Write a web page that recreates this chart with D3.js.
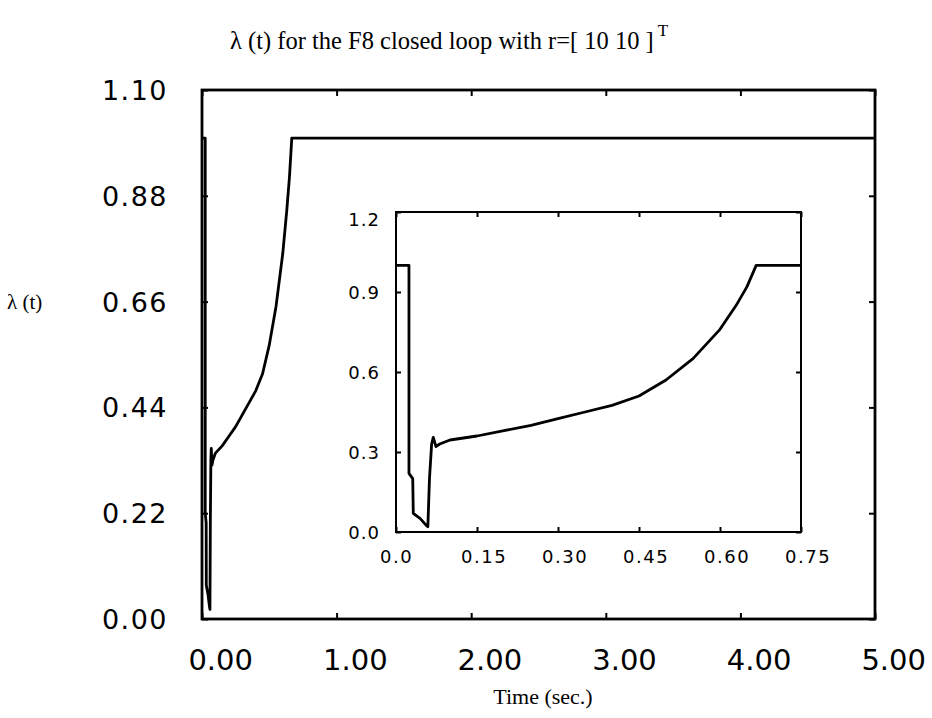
<!DOCTYPE html>
<html>
<head>
<meta charset="utf-8">
<script src="https://d3js.org/d3.v7.min.js"></script>
<style>
body { margin: 0; background: white; }
svg { display: block; }
.num { font-family: "DejaVu Sans", sans-serif; fill: black; }
.ser { font-family: "Liberation Serif", "DejaVu Serif", serif; fill: black; }
</style>
</head>
<body>
<svg width="932" height="718"></svg>
<script>

// lambda(t) samples (time in sec., value)
var times  = [0, 0.024, 0.024, 0.031, 0.032, 0.045, 0.056, 0.059, 0.062, 0.066, 0.069, 0.074, 0.081,
              0.10, 0.15, 0.20, 0.25, 0.30, 0.35, 0.40, 0.45, 0.50, 0.55, 0.60, 0.63, 0.65, 0.667, 5.0];
var lambda = [1.0, 1.0, 0.22, 0.20, 0.07, 0.05, 0.025, 0.02, 0.20, 0.33, 0.355, 0.32, 0.33,
              0.345, 0.36, 0.38, 0.40, 0.425, 0.45, 0.475, 0.51, 0.57, 0.65, 0.76, 0.85, 0.92, 1.0, 1.0];

// tick labels
var mainXTicks = [0, 1, 2, 3, 4, 5];
var mainYTicks = [0, 0.22, 0.44, 0.66, 0.88, 1.10];
var insetXTicks = [0, 0.15, 0.30, 0.45, 0.60, 0.75];
var insetYTicks = [0, 0.3, 0.6, 0.9, 1.2];

var data = times.map(function(t, i) { return {t: t, v: lambda[i]}; });

var svg = d3.select("svg");

// main plot scales
var x = d3.scaleLinear().domain([0, 5]).range([202, 875]);
var y = d3.scaleLinear().domain([0, 1.1]).range([619, 90]);

// inset scales
var xi = d3.scaleLinear().domain([0, 0.75]).range([396, 801]);
var yi = d3.scaleLinear().domain([0, 1.2]).range([532, 212]);

// inward ticks on all four sides, labels drawn separately
function frameTicks(sx, sy, xt, yt, len, w) {
  var g = svg.append("g");
  var x0 = sx.range()[0], x1 = sx.range()[1], y0 = sy.range()[0], y1 = sy.range()[1];
  g.append("g").attr("transform", "translate(0," + y0 + ")")
    .call(d3.axisBottom(sx).tickValues(xt).tickSizeInner(-len).tickSizeOuter(0).tickFormat(""));
  g.append("g").attr("transform", "translate(0," + y1 + ")")
    .call(d3.axisTop(sx).tickValues(xt).tickSizeInner(-len).tickSizeOuter(0).tickFormat(""));
  g.append("g").attr("transform", "translate(" + x0 + ",0)")
    .call(d3.axisLeft(sy).tickValues(yt).tickSizeInner(-len).tickSizeOuter(0).tickFormat(""));
  g.append("g").attr("transform", "translate(" + x1 + ",0)")
    .call(d3.axisRight(sy).tickValues(yt).tickSizeInner(-len).tickSizeOuter(0).tickFormat(""));
  g.selectAll(".domain").remove();
  g.selectAll(".tick line").attr("stroke", "black").attr("stroke-width", 2);
  g.append("rect")
    .attr("x", x0).attr("y", y1)
    .attr("width", x1 - x0).attr("height", y0 - y1)
    .attr("fill", "none").attr("stroke", "black").attr("stroke-width", w);
}

var line = d3.line().x(function(d) { return x(d.t); }).y(function(d) { return y(d.v); });
var lineI = d3.line().x(function(d) { return xi(d.t); }).y(function(d) { return yi(d.v); });

// main curve
svg.append("path")
  .datum(data)
  .attr("fill", "none")
  .attr("stroke", "black")
  .attr("stroke-width", 2.8)
  .attr("stroke-linejoin", "round")
  .attr("d", line);

frameTicks(x, y, mainXTicks, mainYTicks, 6, 2.8);

// main tick labels
svg.append("g").selectAll("text")
  .data(mainXTicks)
  .join("text")
  .attr("class", "num")
  .attr("x", function(d) { return x(d) + 51; })
  .attr("y", 670)
  .attr("text-anchor", "end")
  .style("font-size", "29px")
  .text(function(d) { return d3.format(".2f")(d); });

svg.append("g").selectAll("text")
  .data(mainYTicks)
  .join("text")
  .attr("class", "num")
  .attr("x", 168)
  .attr("y", function(d) { return y(d) + 10; })
  .attr("text-anchor", "end")
  .style("font-size", "27px")
  .style("letter-spacing", "1.5px")
  .text(function(d) { return d3.format(".2f")(d); });

// inset
svg.append("rect")
  .attr("x", xi.range()[0]).attr("y", yi.range()[1])
  .attr("width", xi.range()[1] - xi.range()[0])
  .attr("height", yi.range()[0] - yi.range()[1])
  .attr("fill", "white");

svg.append("path")
  .datum(data.filter(function(d) { return d.t <= 0.75; }).concat([{t: 0.75, v: 1.0}]))
  .attr("fill", "none")
  .attr("stroke", "black")
  .attr("stroke-width", 2.8)
  .attr("stroke-linejoin", "round")
  .attr("d", lineI);

frameTicks(xi, yi, insetXTicks, insetYTicks, 5, 2);

svg.append("g").selectAll("text")
  .data(insetXTicks)
  .join("text")
  .attr("class", "num")
  .attr("x", function(d) { return xi(d) - 16; })
  .attr("y", 563)
  .style("font-size", "18px")
  .style("letter-spacing", "1.5px")
  .text(function(d, i) { return i == 0 ? "0.0" : d3.format(".2f")(d); });

svg.append("g").selectAll("text")
  .data(insetYTicks)
  .join("text")
  .attr("class", "num")
  .attr("x", 380)
  .attr("y", function(d, i) { return (i == insetYTicks.length - 1 ? yi(d) + 7 : yi(d)) + 7; })
  .attr("text-anchor", "end")
  .style("font-size", "18px")
  .style("letter-spacing", "1px")
  .text(function(d) { return d3.format(".1f")(d); });

// titles
var title = svg.append("text")
  .attr("class", "ser")
  .attr("x", 230)
  .attr("y", 49)
  .style("font-size", "24.5px");
title.append("tspan").text("λ (t)  for the F8 closed loop with r=[ 10  10 ]");
title.append("tspan").attr("dy", -13).style("font-size", "17px").text(" T");

svg.append("text")
  .attr("class", "ser")
  .attr("x", 7)
  .attr("y", 309)
  .style("font-size", "21px")
  .text("λ (t)");

svg.append("text")
  .attr("class", "ser")
  .attr("x", 543)
  .attr("y", 704)
  .attr("text-anchor", "middle")
  .style("font-size", "22px")
  .text("Time (sec.)");

</script>
</body>
</html>
